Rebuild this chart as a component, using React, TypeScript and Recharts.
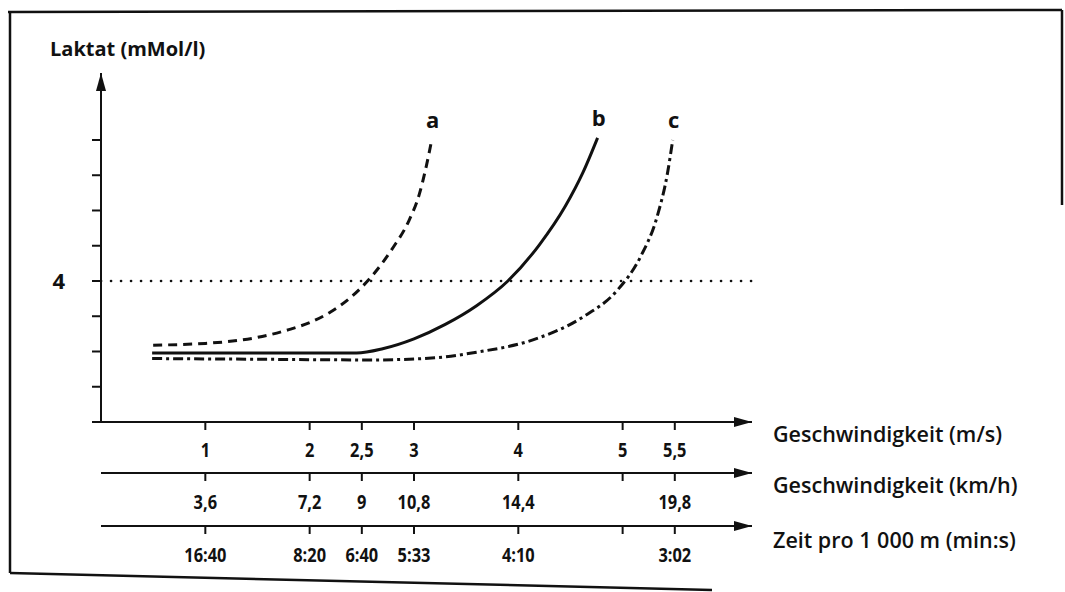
import {
  ComposedChart,
  Line,
  XAxis,
  YAxis,
  ReferenceLine,
} from "recharts";

// speed axis ticks (m/s) and the matching labels on the three scales
const speedTicks = [1, 2, 2.5, 3, 4, 5, 5.5];
const msLabels = ["1", "2", "2,5", "3", "4", "5", "5,5"];
const kmhLabels = ["3,6", "7,2", "9", "10,8", "14,4", "", "19,8"];
const timeLabels = ["16:40", "8:20", "6:40", "5:33", "4:10", "", "3:02"];

const lactateTicks = [0, 1, 2, 3, 4, 5, 6, 7, 8];
const threshold = 4;

// curve a (dashed)
const aSpeed = [0.5, 1.0, 1.5, 1.8, 2.0, 2.2, 2.4, 2.6, 2.8, 2.95, 3.05, 3.11, 3.17];
const aLactate = [2.18, 2.23, 2.4, 2.62, 2.82, 3.12, 3.55, 4.15, 4.95, 5.7, 6.45, 7.15, 8.0];

// curve b (solid)
const bSpeed = [0.49, 1.5, 2.45, 2.7, 3.0, 3.3, 3.6, 3.9, 4.2, 4.45, 4.62, 4.76];
const bLactate = [1.96, 1.96, 1.96, 2.08, 2.36, 2.77, 3.3, 4.0, 5.02, 6.12, 7.08, 8.06];

// curve c (dash-dot)
const cSpeed = [0.49, 1.5, 2.6, 3.2, 3.6, 4.14, 4.62, 4.95, 5.17, 5.33, 5.43, 5.48];
const cLactate = [1.8, 1.78, 1.76, 1.82, 1.98, 2.33, 2.98, 3.74, 4.68, 5.82, 7.06, 8.0];

const FONT = "'Open Sans', 'Noto Sans', sans-serif";
const INK = "#111";

function toPoints(speed: number[], lactate: number[]) {
  return speed.map((s, i) => ({ speed: s, lactate: lactate[i] }));
}

const curves = [
  { name: "a", data: toPoints(aSpeed, aLactate), dash: "9 6" },
  { name: "b", data: toPoints(bSpeed, bLactate), dash: undefined },
  { name: "c", data: toPoints(cSpeed, cLactate), dash: "10 4 3 4" },
];

function BottomTick(props: any) {
  const { x, y, payload, labels } = props;
  const i = speedTicks.indexOf(payload.value);
  const text = labels[i] ?? "";
  return (
    <text
      x={x}
      y={y}
      dy="0.71em"
      textAnchor="middle"
      fontFamily={FONT}
      fontWeight={700}
      fontSize={20}
      fill={INK}
      transform={`translate(${x} 0) scale(0.82 1) translate(${-x} 0)`}
    >
      {text}
    </text>
  );
}

function axisTitle(title: string, dy: number) {
  return (props: any) => {
    const vb = props.viewBox;
    return (
      <text
        x={vb.x + vb.width + 21}
        y={vb.y + dy}
        fontFamily={FONT}
        fontWeight={600}
        fontSize={21.5}
        fill={INK}
      >
        {title}
      </text>
    );
  };
}

function curveLabel(name: string, last: number) {
  return (props: any) => {
    if (props.index !== last) return null;
    return (
      <text
        x={props.x + 1}
        y={props.y - 12}
        textAnchor="middle"
        fontFamily={FONT}
        fontWeight={700}
        fontSize={22}
        fill={INK}
      >
        {name}
      </text>
    );
  };
}

function Frame() {
  return (
    <svg
      width={1065}
      height={592}
      style={{ position: "absolute", left: 0, top: 0, pointerEvents: "none" }}
    >
      <g stroke={INK} strokeWidth={2.5} fill="none">
        <line x1={8} y1={12} x2={1062} y2={10} />
        <line x1={1062} y1={10} x2={1062} y2={205} />
        <line x1={10} y1={12} x2={10} y2={573} />
        <line x1={10} y1={573} x2={712} y2={590} />
      </g>
    </svg>
  );
}

const axisLine = { stroke: INK, strokeWidth: 2, markerEnd: "url(#arrowHead)" };
const tickLine = { stroke: INK, strokeWidth: 2 };

export default function App() {
  return (
    <div style={{ position: "absolute", left: 0, top: 0, width: 1065, height: 592, background: "#fff" }}>
      <ComposedChart
        width={1065}
        height={592}
        margin={{ top: 73, right: 313, left: 41, bottom: 21 }}
      >
        <defs>
          <marker
            id="arrowHead"
            viewBox="0 0 18 10"
            refX={18}
            refY={5}
            markerWidth={18}
            markerHeight={10}
            markerUnits="userSpaceOnUse"
            orient="auto-start-reverse"
          >
            <path d="M0,0 L18,5 L0,10 Z" fill={INK} />
          </marker>
        </defs>
        <XAxis
          xAxisId={0}
          dataKey="speed"
          type="number"
          domain={[0, 6.24]}
          allowDataOverflow
          ticks={speedTicks}
          interval={0}
          height={51}
          tickSize={8}
          tickMargin={13}
          axisLine={axisLine}
          tickLine={tickLine}
          tick={(p: any) => <BottomTick {...p} labels={msLabels} />}
          label={axisTitle("Geschwindigkeit (m/s)", 20)}
        />
        <XAxis
          xAxisId={1}
          dataKey="speed"
          type="number"
          domain={[0, 6.24]}
          allowDataOverflow
          ticks={speedTicks}
          interval={0}
          height={53}
          tickSize={8}
          tickMargin={14}
          axisLine={axisLine}
          tickLine={tickLine}
          tick={(p: any) => <BottomTick {...p} labels={kmhLabels} />}
          label={axisTitle("Geschwindigkeit (km/h)", 20)}
        />
        <XAxis
          xAxisId={2}
          dataKey="speed"
          type="number"
          domain={[0, 6.24]}
          allowDataOverflow
          ticks={speedTicks}
          interval={0}
          height={45}
          tickSize={8}
          tickMargin={14}
          axisLine={axisLine}
          tickLine={tickLine}
          tick={(p: any) => <BottomTick {...p} labels={timeLabels} />}
          label={axisTitle("Zeit pro 1 000 m (min:s)", 22)}
        />
        <YAxis
          type="number"
          domain={[0, 9.9]}
          allowDataOverflow
          ticks={lactateTicks}
          interval={0}
          width={60}
          tickSize={9}
          tickMargin={27}
          axisLine={{ stroke: INK, strokeWidth: 2, markerStart: "url(#arrowHead)" }}
          tickLine={tickLine}
          tickFormatter={(v: number) => (v === threshold ? String(v) : "")}
          tick={{ fontFamily: FONT, fontWeight: 700, fontSize: 22, fill: INK }}
          label={(props: any) => (
            <text
              x={50}
              y={props.viewBox.y - 17}
              fontFamily={FONT}
              fontWeight={700}
              fontSize={20}
              fill={INK}
            >
              Laktat (mMol/l)
            </text>
          )}
        />
        <ReferenceLine
          xAxisId={0}
          y={threshold}
          stroke={INK}
          strokeWidth={2.6}
          strokeDasharray="0.1 9.9"
          strokeLinecap="round"
        />
        {curves.map((c) => (
          <Line
            key={c.name}
            xAxisId={0}
            data={c.data}
            dataKey="lactate"
            type="monotone"
            stroke={INK}
            strokeWidth={3}
            strokeDasharray={c.dash}
            dot={false}
            activeDot={false}
            isAnimationActive={false}
            label={curveLabel(c.name, c.data.length - 1)}
          />
        ))}
        {/* invisible copies so the km/h and time scales get their ticks */}
        {[1, 2].map((id) => (
          <Line
            key={`scale-${id}`}
            xAxisId={id}
            data={curves[1].data}
            dataKey="lactate"
            stroke="none"
            dot={false}
            activeDot={false}
            legendType="none"
            isAnimationActive={false}
          />
        ))}
      </ComposedChart>
      <Frame />
    </div>
  );
}
